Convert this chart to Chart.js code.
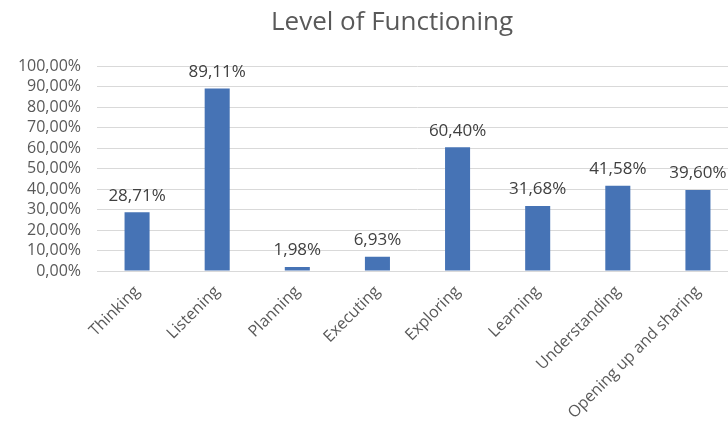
<!DOCTYPE html>
<html>
<head>
<meta charset="utf-8">
<script src="https://cdn.jsdelivr.net/npm/chart.js@4/dist/chart.umd.min.js"></script>
<style>
  html, body { margin: 0; padding: 0; background: #fff; overflow: hidden; }
  #wrap { width: 728px; height: 426px; overflow: hidden; position: relative; }
  #box { width: 790px; height: 426px; position: absolute; left: 0; top: 0; }
</style>
</head>
<body>
<div id="wrap"><div id="box"><canvas id="c"></canvas></div></div>
<script>
const categories = ["Thinking", "Listening", "Planning", "Executing", "Exploring", "Learning", "Understanding", "Opening up and sharing"];
const values = [28.71, 89.11, 1.98, 6.93, 60.40, 31.68, 41.58, 39.60];
const yTicks = [0, 10, 20, 30, 40, 50, 60, 70, 80, 90, 100];
const titleText = "Level of Functioning";

const FONT = "Open Sans";
const fmt = v => v.toFixed(2).replace('.', ',') + '%';

const dataLabels = {
  id: 'dataLabels',
  afterDatasetsDraw(chart) {
    const ctx = chart.ctx;
    const meta = chart.getDatasetMeta(0);
    ctx.save();
    ctx.font = "17px '" + FONT + "'";
    ctx.fillStyle = '#404040';
    ctx.textAlign = 'center';
    ctx.textBaseline = 'bottom';
    meta.data.forEach((bar, i) => {
      ctx.fillText(fmt(values[i]), bar.x, bar.y - 8);
    });
    ctx.restore();
  }
};

// let y tick labels use the space left of the axis box (avoid clipping)
const unclipY = {
  id: 'unclipY',
  afterLayout(chart) { chart.scales.y.left = 0; }
};

new Chart(document.getElementById('c'), {
  type: 'bar',
  data: {
    labels: categories,
    datasets: [{
      data: values,
      backgroundColor: '#4673B5',
      borderWidth: 0,
      barPercentage: 0.3125,
      categoryPercentage: 1.0
    }]
  },
  options: {
    responsive: true,
    maintainAspectRatio: false,
    animation: false,
    layout: { padding: { left: 46, right: 52, top: 0, bottom: 0 } },
    plugins: {
      legend: { display: false },
      tooltip: { enabled: false },
      title: {
        display: true,
        text: titleText,
        color: '#595959',
        font: { family: FONT, size: 26, weight: 'normal' },
        padding: { top: 7, bottom: 28 }
      }
    },
    scales: {
      x: {
        grid: { display: false, drawTicks: false },
        border: { display: true, color: '#d9d9d9', width: 1 },
        ticks: {
          color: '#595959',
          font: { family: FONT, size: 16 },
          maxRotation: 45,
          minRotation: 45,
          autoSkip: false,
          padding: 11
        },
        afterFit(scale) { scale.height = 155; }
      },
      y: {
        min: 0,
        max: 100,
        afterBuildTicks(scale) { scale.ticks = yTicks.map(v => ({ value: v })); },
        grid: { color: '#d9d9d9', drawTicks: false },
        border: { display: false },
        ticks: {
          color: '#595959',
          font: { family: FONT, size: 16 },
          padding: 16,
          autoSkip: false,
          callback: v => fmt(v)
        },
        afterFit(scale) { scale.width = 51; }
      }
    }
  },
  plugins: [dataLabels, unclipY]
});
</script>
</body>
</html>
